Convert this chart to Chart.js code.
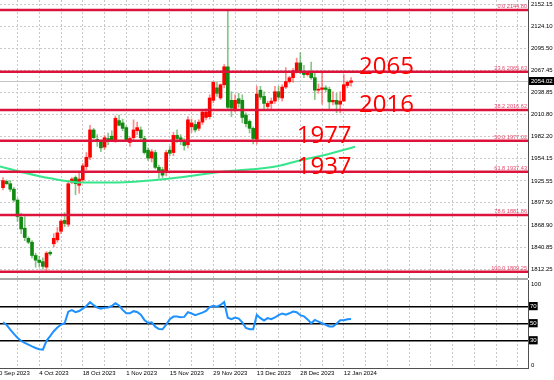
<!DOCTYPE html>
<html>
<head>
<meta charset="utf-8">
<script src="https://cdn.jsdelivr.net/npm/chart.js@4.4.1/dist/chart.umd.min.js"></script>
<style>
  html, body { margin: 0; padding: 0; background: #fff; }
  #wrap { position: relative; width: 554px; height: 380px; overflow: hidden; }
  canvas { position: absolute; left: 0; }
  #main { top: 0; }
  #osc { top: 280px; }
  .sep { position: absolute; left: 0; top: 278px; width: 528px; height: 2px; background: #a8a8a8; }
</style>
</head>
<body>
<div id="wrap">
  <canvas id="main" width="554" height="278"></canvas>
  <div class="sep"></div>
  <canvas id="osc" width="554" height="100"></canvas>
</div>
<script>
// daily candles, one entry per bar (bar 0 = 22 Sep 2023)
const opens  = [1917,1925,1922,1915,1901,1879,1865,1852,1847,1830,1824,1822,1815,1834,1845,1850,1861,1875,1870,1924,
                1930,1920,1927,1944,1956,1991,1979,1976,1969,1980,1983,1978,2003,2000,1994,1975,1981,1990,1991,1980,
                1965,1955,1962,1943,1940,1937,1965,1962,1984,1981,1976,1972,1995,1998,1993,2001,2007,2008,2029,2045,
                2032,2049,2072,2029,2017,2031,2029,2010,2002,1993,1979,2042,2034,2021,2025,2028,2040,2032,2046,2053,
                2058,2067,2077,2066,2062,2064,2058,2042,2043,2045,2043,2027,2029,2024,2028,2048,2052];
const highs  = [1930,1927,1926,1917,1903,1884,1880,1854,1849,1833,1829,1827,1835,1836,1858,1866,1876,1885,1926,1930,
                1932,1937,1948,1962,1997,1993,1985,1978,1984,1987,1990,2009,2010,2005,1996,1982,2004,2001,1995,1983,
                1968,1966,1965,1946,1943,1965,1970,1988,1991,1985,1980,2008,2005,2003,2004,2017,2018,2036,2053,2052,
                2050,2075,2144.8,2040,2036,2038,2036,2013,2004,1995,2047,2047,2040,2028,2032,2047,2047,2049,2071,2060,
                2070,2083,2090,2074,2066,2078,2065,2050,2064,2048,2046,2040,2038,2040,2062,2054,2058];
const lows   = [1914,1921,1912,1899,1874,1858,1849,1845,1827,1815,1815,1812,1809.25,1830,1841,1847,1858,1867,1867,1922,
                1908,1910,1924,1940,1953,1980,1970,1963,1966,1972,1976,1975,1996,1990,1976,1970,1978,1985,1978,1960,
                1952,1950,1941,1929,1930,1932,1958,1958,1975,1972,1965,1968,1988,1988,1990,1998,2004,2005,2026,2034,
                2030,2045,2018,2008,2014,2020,2000,1995,1987,1973,1973,2030,2018,2017,2016,2025,2030,2028,2044,2051,
                2052,2064,2063,2058,2060,2056,2030,2038,2024,2040,2016,2023,2013,2013,2028,2045,2047];
const closes = [1926,1922,1915,1901,1880,1864,1853,1847,1830,1824,1821,1816,1833,1832,1852,1859,1874,1871,1922,1928,
                1922,1928,1945,1956,1991,1981,1977,1968,1981,1976,1978,2006,1997,1993,1978,1980,1991,1994,1981,1962,
                1955,1963,1943,1937,1933,1962,1961,1984,1980,1978,1971,2004,2000,1991,2001,2014,2014,2032,2052,2038,
                2049,2072,2020,2019,2029,2025,2007,1999,1993,1980,2037,2033,2025,2025,2028,2040,2033,2046,2053,2058,
                2067,2077,2066,2062,2064,2058,2042,2043,2045,2043,2027,2029,2024,2028,2049,2052,2054.02];

// RSI, one value per bar
const rsiValues = [51.5,48.6,43,38,33.5,29.7,27.6,25.5,23.4,21.5,20,19.5,30,35.5,41.2,45.5,49,50.5,64.1,66,
                   63.5,64.9,67.7,70.8,75.2,71.7,69,67.5,68.8,69,70.7,73.9,71.3,66.2,62.2,62.2,64.7,63.7,60.5,54.4,
                   50.9,51.7,46.5,43.8,43.5,48.9,55.4,58.3,58.3,57.5,58,63.5,62,60,61.5,63,65,69.5,71,70,
                   72,75.5,57,55.3,57.3,56,51.5,45,43.6,43.6,60.3,56.5,53.8,56.5,55.3,57.3,60,62,60.6,62.2,
                   64.3,63.5,60,58.6,55,50.5,54.4,52.5,50.5,48.8,46.8,46.6,50,54,54,55.2,55.6];

// moving average read at a few places along the curve
const maBars   = [-0.83, 4.7, 13, 22.2, 33.7, 50.2, 60.3, 68.6, 75.9, 81.5, 88.8, 97.1];
const maValues = [1944, 1937.5, 1929, 1923.5, 1924, 1931, 1937.4, 1940.5, 1944.8, 1951.6, 1958.9, 1969.5];

const fibPercents = [0, 23.6, 38.2, 50, 61.8, 78.6, 100];
const fibLevels   = [2144.80, 2065.63, 2016.62, 1977.02, 1937.43, 1881.86, 1809.25];
const bigLabels   = ['2065', '2016', '1977', '1937'];

const priceTicks = [2152.15, 2124.10, 2095.50, 2067.45, 2038.85, 2010.80, 1982.20,
                    1954.15, 1925.55, 1897.50, 1868.90, 1840.85, 1812.25];
const dateBars   = [-2, 10, 22, 34, 46, 58, 70, 82, 94];
const dateLabels = ['20 Sep 2023', '4 Oct 2023', '18 Oct 2023', '1 Nov 2023', '15 Nov 2023',
                    '29 Nov 2023', '13 Dec 2023', '28 Dec 2023', '12 Jan 2024'];
const rsiLevels  = [30, 50, 70];
const rsiRange   = [0, 100];
const lastPrice  = 2054.02;

// layout
const X_MIN = -0.83, X_MAX = 144.8;
const Y_MIN = 1801.1, Y_MAX = 2157.66;
const R_MIN = -1.9, R_MAX = 101.2;
const BIG_AT = [98.2, 98.2, 81, 81];
const GRID = '#c8c8c8';
const AXIS = '#505050';
const TICK_FONT = {family: 'Liberation Sans', size: 6};

const gridBars = [];
for (let b = -2; b <= X_MAX; b += 6) gridBars.push(b);

const bars = opens.map((o, i) => i);
const isUp = bars.map(i => closes[i] >= opens[i]);

Chart.defaults.animation = false;

const levelsPlugin = {
    id: 'levels',
    beforeDatasetsDraw(chart) {
        const {ctx, chartArea: a, scales: {y}} = chart;
        const py = Math.round(y.getPixelForValue(lastPrice)) + 0.5;
        ctx.save();
        ctx.strokeStyle = '#c4c4c4';
        ctx.lineWidth = 1;
        ctx.beginPath();
        ctx.moveTo(a.left, py);
        ctx.lineTo(a.right, py);
        ctx.stroke();
        ctx.restore();
    },
    afterDatasetsDraw(chart) {
        const {ctx, chartArea: a, scales: {x, y}} = chart;
        ctx.save();
        fibLevels.forEach((lv, i) => {
            const py = y.getPixelForValue(lv);
            ctx.strokeStyle = '#dc143c';
            ctx.lineWidth = 2.5;
            ctx.beginPath();
            ctx.moveTo(a.left, py);
            ctx.lineTo(a.right, py);
            ctx.stroke();
            ctx.fillStyle = '#e0486a';
            ctx.font = '5.6px "Liberation Sans"';
            ctx.textAlign = 'right';
            ctx.textBaseline = 'alphabetic';
            ctx.fillText(fibPercents[i].toFixed(1) + ' ' + lv.toFixed(2), a.right - 1, py - 2);
        });
        ctx.fillStyle = '#ff0000';
        ctx.font = '24px "Open Sans"';
        ctx.textAlign = 'left';
        bigLabels.forEach((t, i) => {
            ctx.fillText(t, x.getPixelForValue(BIG_AT[i]), y.getPixelForValue(fibLevels[i + 1]) + 2);
        });
        ctx.restore();
    },
    afterDraw(chart) {
        // current price marker on the axis
        const {ctx, chartArea: a, scales: {y}} = chart;
        const py = Math.round(y.getPixelForValue(lastPrice));
        ctx.save();
        ctx.fillStyle = '#000';
        ctx.fillRect(a.right + 1, py - 4, 25, 8);
        ctx.fillStyle = '#fff';
        ctx.font = '6px "Liberation Sans"';
        ctx.textAlign = 'left';
        ctx.textBaseline = 'middle';
        ctx.fillText(lastPrice.toFixed(2), a.right + 3, py);
        ctx.restore();
    }
};

new Chart(document.getElementById('main'), {
    type: 'bar',
    data: {
        datasets: [
            {
                type: 'line',
                data: maBars.map((b, i) => ({x: b, y: maValues[i]})),
                borderColor: '#36e68c',
                borderWidth: 2,
                pointRadius: 0,
                cubicInterpolationMode: 'monotone',
                order: 1,
            },
            {
                data: bars.map(i => ({x: i, y: [opens[i], closes[i]]})),
                backgroundColor: isUp.map(u => u ? '#ff0000' : '#128a12'),
                barThickness: 3,
                minBarLength: 1,
                grouped: false,
                order: 2,
            },
            {
                data: bars.map(i => ({x: i, y: [lows[i], highs[i]]})),
                backgroundColor: isUp.map(u => u ? 'rgba(255,60,60,0.6)' : 'rgba(40,150,40,0.55)'),
                barThickness: 1,
                grouped: false,
                order: 3,
            },
        ]
    },
    options: {
        responsive: false,
        maintainAspectRatio: false,
        layout: {padding: 0},
        plugins: {legend: {display: false}, tooltip: {enabled: false}},
        scales: {
            x: {
                type: 'linear', min: X_MIN, max: X_MAX, offset: false, bounds: 'data',
                afterBuildTicks: s => { s.ticks = gridBars.map(v => ({value: v})); },
                afterFit: s => { s.height = 0; s.paddingLeft = 0; s.paddingRight = 0; },
                ticks: {display: false},
                grid: {color: GRID, drawTicks: false, offset: false},
                border: {display: false, dash: [2, 2]},
            },
            y: {
                position: 'right', min: Y_MIN, max: Y_MAX, bounds: 'data', beginAtZero: false,
                afterBuildTicks: s => { s.ticks = priceTicks.map(v => ({value: v})); },
                afterFit: s => { s.width = 26; s.paddingTop = 0; s.paddingBottom = 0; },
                ticks: {color: '#000', font: TICK_FONT, padding: 3, autoSkip: false,
                        callback: v => v.toFixed(2)},
                grid: {color: GRID, drawTicks: false},
                border: {display: true, color: AXIS, width: 1, dash: [2, 2]},
            }
        }
    },
    plugins: [levelsPlugin]
});

const rsiScalePlugin = {
    id: 'rsiScale',
    afterDraw(chart) {
        const {ctx, chartArea: a, scales: {y}} = chart;
        ctx.save();
        ctx.fillStyle = '#000';
        ctx.font = '6px "Liberation Sans"';
        ctx.textAlign = 'left';
        ctx.textBaseline = 'middle';
        ctx.fillText(String(rsiRange[1]), a.right + 3, y.getPixelForValue(rsiRange[1]) + 3);
        ctx.fillText(String(rsiRange[0]), a.right + 3, y.getPixelForValue(rsiRange[0]) - 1.5);
        ctx.restore();
    }
};

new Chart(document.getElementById('osc'), {
    type: 'line',
    data: {
        datasets: [{
            data: rsiValues.map((v, i) => ({x: i, y: v})),
            borderColor: '#1e90ff',
            borderWidth: 2,
            pointRadius: 0,
            tension: 0,
        }]
    },
    options: {
        responsive: false,
        maintainAspectRatio: false,
        layout: {padding: 0},
        plugins: {legend: {display: false}, tooltip: {enabled: false}},
        scales: {
            x: {
                type: 'linear', min: X_MIN, max: X_MAX, offset: false, bounds: 'data',
                afterBuildTicks: s => { s.ticks = gridBars.map(v => ({value: v})); },
                afterFit: s => { s.height = 12; s.paddingLeft = 0; s.paddingRight = 0; },
                ticks: {
                    color: '#000', font: TICK_FONT, padding: 2, align: 'start',
                    maxRotation: 0, minRotation: 0, autoSkip: false,
                    callback: v => { const k = dateBars.indexOf(v); return k >= 0 ? dateLabels[k] : ''; }
                },
                grid: {color: GRID, drawTicks: false, offset: false},
                border: {display: true, color: AXIS, width: 1, dash: [2, 2]},
            },
            y: {
                position: 'right', min: R_MIN, max: R_MAX, bounds: 'data',
                afterBuildTicks: s => { s.ticks = rsiLevels.map(v => ({value: v})); },
                afterFit: s => { s.width = 26; s.paddingTop = 0; s.paddingBottom = 0; },
                ticks: {
                    color: '#fff', font: TICK_FONT, padding: 2, autoSkip: false,
                    showLabelBackdrop: true, backdropColor: '#000',
                    backdropPadding: {top: 1, bottom: 0, left: 1, right: 1}
                },
                grid: {color: '#000', lineWidth: 1.5, drawTicks: false},
                border: {display: true, color: AXIS, width: 1},
            }
        }
    },
    plugins: [rsiScalePlugin]
});
</script>
</body>
</html>
